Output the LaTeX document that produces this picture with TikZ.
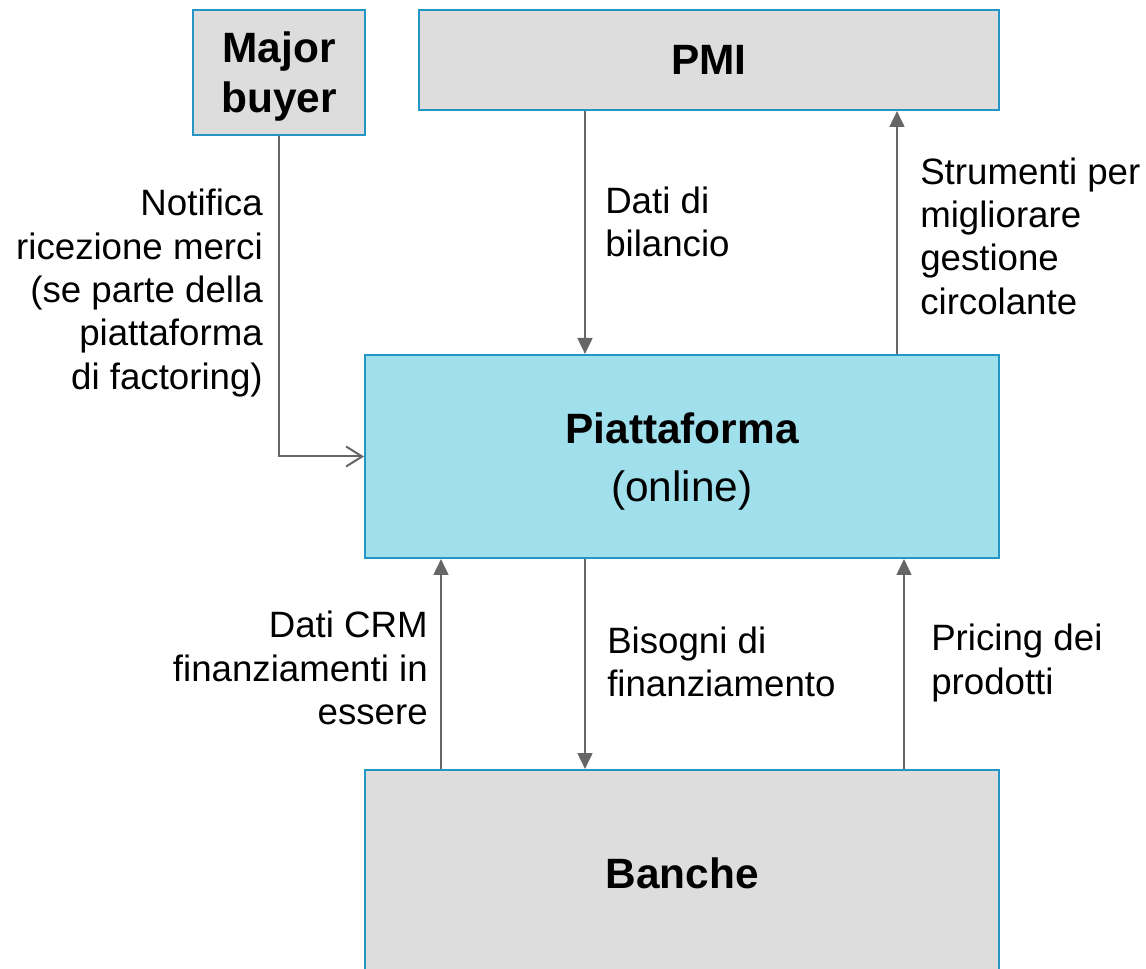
\documentclass[tikz,border=0pt]{standalone}
\usepackage{fontspec}
\setmainfont{Liberation Sans}
\usetikzlibrary{arrows.meta}
\definecolor{bordblue}{RGB}{35,150,195}
\definecolor{boxgray}{RGB}{221,221,221}
\definecolor{boxcyan}{RGB}{160,224,237}
\definecolor{arrgray}{RGB}{102,102,102}
\tikzset{
  box/.style={draw=bordblue, line width=1.5pt, fill=boxgray, inner sep=0pt, align=center,
    font=\bfseries\fontsize{31.8}{38}\selectfont},
  lbl/.style={inner sep=0pt, font=\fontsize{27.5}{32.5}\selectfont},
  arr/.style={draw=arrgray, line width=2pt, -{Triangle[width=11pt,length=12pt]}},
  openarr/.style={draw=arrgray, line width=1.5pt, -{Straight Barb[length=12pt,width=15pt,line width=1.5pt]}}
}
\begin{document}
\begin{tikzpicture}[x=0.75pt,y=-0.75pt]
\useasboundingbox (0,0) rectangle (1146,969);
\node[box, minimum width=172*0.75pt, minimum height=125*0.75pt] (mb) at (279,72.5) {\rule{0pt}{29pt}Major\\buyer};
\node[box, minimum width=580*0.75pt, minimum height=100*0.75pt] (pmi) at (709,60) {PMI};
\node[box, fill=boxcyan, minimum width=634*0.75pt, minimum height=203*0.75pt] (pf) at (682,456.5) {\rule{0pt}{30.5pt}Piattaforma\\[5pt]\mdseries (online)};
\node[box, minimum width=634*0.75pt, minimum height=206*0.75pt] (ba) at (682,873) {Banche};

\coordinate (xa) at (585,0);
\coordinate (xb) at (897,0);
\coordinate (xc) at (441,0);
\coordinate (xd) at (904,0);

\draw[openarr] (mb.south) |- (pf.west);
\draw[arr] (pmi.south -| xa) -- (pf.north -| xa);
\draw[arr] (pf.north -| xb) -- (pmi.south -| xb);
\draw[arr] (ba.north -| xc) -- (pf.south -| xc);
\draw[arr] (pf.south -| xa) -- (ba.north -| xa);
\draw[arr] (ba.north -| xd) -- (pf.south -| xd);

\node[lbl, align=right, anchor=east] (l1) at (263,293) {Notifica\\ricezione merci\\(se parte della\\piattaforma\\di factoring)};
\node[lbl, align=left, anchor=west] (l2) at (605,222) {Dati di\\bilancio};
\node[lbl, align=left, anchor=west] (l3) at (920,236) {Strumenti per\\migliorare\\gestione\\circolante};
\node[lbl, align=right, anchor=east] (l4) at (428,668) {Dati CRM\\finanziamenti in\\essere};
\node[lbl, align=left, anchor=west] (l5) at (607,662) {Bisogni di\\finanziamento};
\node[lbl, align=left, anchor=west] (l6) at (931,663) {Pricing dei\\prodotti};
\end{tikzpicture}
\end{document}
